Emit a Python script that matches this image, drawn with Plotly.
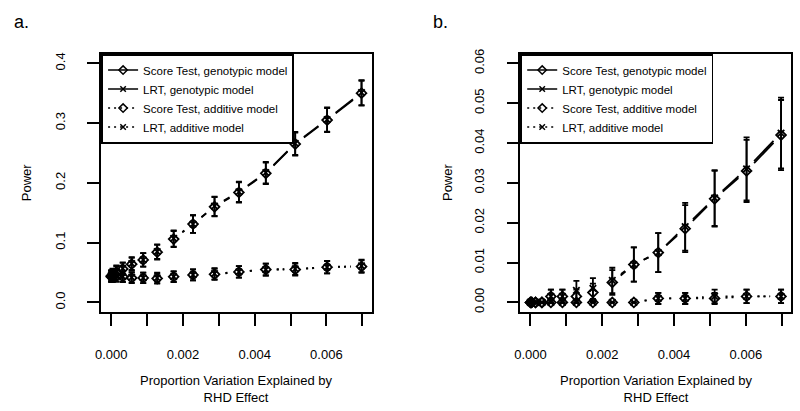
import math
import plotly.graph_objects as go

# ---------------- data ----------------
prop_var = [0, 0.0000356, 0.000142, 0.00032, 0.00057, 0.00089, 0.00128, 0.00174,
            0.00228, 0.00288, 0.00356, 0.00431, 0.00513, 0.00602, 0.00698]

# Panel a
score_geno_a = [0.044, 0.046, 0.051, 0.056, 0.064, 0.071, 0.084, 0.106, 0.131, 0.160, 0.184, 0.216, 0.265, 0.305, 0.350]
lrt_geno_a   = [0.045, 0.047, 0.052, 0.057, 0.065, 0.071, 0.085, 0.107, 0.131, 0.161, 0.185, 0.217, 0.266, 0.306, 0.351]
score_add_a  = [0.043, 0.043, 0.044, 0.043, 0.041, 0.041, 0.040, 0.043, 0.046, 0.047, 0.051, 0.055, 0.055, 0.059, 0.060]
lrt_add_a    = [0.044, 0.043, 0.044, 0.043, 0.042, 0.041, 0.041, 0.043, 0.046, 0.048, 0.051, 0.055, 0.056, 0.059, 0.061]
err_score_geno_a = [0.0090, 0.0092, 0.0096, 0.0101, 0.0107, 0.0113, 0.0122, 0.0135, 0.0148, 0.0161, 0.0170, 0.0180, 0.0193, 0.0202, 0.0209]
err_lrt_geno_a   = [0.0091, 0.0093, 0.0097, 0.0101, 0.0108, 0.0113, 0.0122, 0.0136, 0.0148, 0.0161, 0.0170, 0.0181, 0.0194, 0.0202, 0.0209]
err_score_add_a  = [0.0089, 0.0089, 0.0090, 0.0089, 0.0087, 0.0087, 0.0086, 0.0089, 0.0092, 0.0093, 0.0096, 0.0100, 0.0100, 0.0103, 0.0104]
err_lrt_add_a    = [0.0090, 0.0089, 0.0090, 0.0089, 0.0088, 0.0087, 0.0087, 0.0089, 0.0092, 0.0094, 0.0096, 0.0100, 0.0101, 0.0103, 0.0105]

# Panel b
score_geno_b = [0, 0, 0, 0, 0.0015, 0.0015, 0.0015, 0.0025, 0.0050, 0.0095, 0.0125, 0.0185, 0.0260, 0.0330, 0.0420]
lrt_geno_b   = [0, 0, 0, 0, 0.0015, 0.0015, 0.0030, 0.0035, 0.0055, 0.0095, 0.0125, 0.0190, 0.0262, 0.0335, 0.0425]
score_add_b  = [0, 0, 0, 0, 0, 0, 0, 0, 0, 0, 0.0010, 0.0010, 0.0010, 0.0015, 0.0015]
lrt_add_b    = [0, 0, 0, 0, 0, 0, 0, 0, 0, 0, 0.0010, 0.0010, 0.0015, 0.0015, 0.0015]
err_score_geno_b = [0, 0, 0, 0, 0.0017, 0.0017, 0.0017, 0.0022, 0.0031, 0.0043, 0.0049, 0.0059, 0.0070, 0.0078, 0.0088]
err_lrt_geno_b   = [0, 0, 0, 0, 0.0017, 0.0017, 0.0024, 0.0026, 0.0032, 0.0043, 0.0049, 0.0060, 0.0070, 0.0079, 0.0089]
err_score_add_b  = [0, 0, 0, 0, 0, 0, 0, 0, 0, 0, 0.0014, 0.0014, 0.0014, 0.0017, 0.0017]
err_lrt_add_b    = [0, 0, 0, 0, 0, 0, 0, 0, 0, 0, 0.0014, 0.0014, 0.0017, 0.0017, 0.0017]

series_names = ["Score Test, genotypic model", "LRT, genotypic model",
                "Score Test, additive model", "LRT, additive model"]
x_ticks = [0, 0.001, 0.002, 0.003, 0.004, 0.005, 0.006, 0.007]
x_tick_text = ["0.000", "", "0.002", "", "0.004", "", "0.006", ""]
y_ticks_a = [0, 0.1, 0.2, 0.3, 0.4]
y_ticks_b = [0, 0.01, 0.02, 0.03, 0.04, 0.05, 0.06]

# ---------------- layout constants ----------------
W, H = 800, 411
FONT = "Liberation Sans, Arial, sans-serif"
xmax = max(prop_var)
x_range = [-0.04 * xmax, 1.04 * xmax]
y_range_a = [-0.016, 0.416]
y_range_b = [-0.0024, 0.0624]
dom_x_a = [96 / W, 368.3 / W]
dom_x_b = [518.3 / W, 791 / W]
dom_y = [(H - 311.5) / H, (H - 49.5) / H]
LW = 1.8


def gapped(xs, ys, xr, yr, dx, dy, gap=11):
    """Segments between points shortened at both ends (R type='b')."""
    sx = (dx[1] - dx[0]) * W / (xr[1] - xr[0])
    sy = (dy[1] - dy[0]) * H / (yr[1] - yr[0])
    ox, oy = [], []
    for i in range(len(xs) - 1):
        ddx, ddy = xs[i + 1] - xs[i], ys[i + 1] - ys[i]
        d = math.hypot(ddx * sx, ddy * sy)
        if d <= 2 * gap:
            continue
        f = gap / d
        ox += [xs[i] + f * ddx, xs[i + 1] - f * ddx, None]
        oy += [ys[i] + f * ddy, ys[i + 1] - f * ddy, None]
    return ox, oy


def nz(errs):
    return [e if e > 0 else None for e in errs]


styles = [
    dict(symbol="diamond-open", size=7.5, dash="solid"),
    dict(symbol="x-thin-open", size=6.5, dash="solid"),
    dict(symbol="diamond-open", size=7.5, dash="2px,4px"),
    dict(symbol="x-thin-open", size=6.5, dash="2px,4px"),
]

fig = go.Figure()

panels = [
    ("x", "y", "legend", y_range_a, dom_x_a,
     [score_geno_a, lrt_geno_a, score_add_a, lrt_add_a],
     [err_score_geno_a, err_lrt_geno_a, err_score_add_a, err_lrt_add_a]),
    ("x2", "y2", "legend2", y_range_b, dom_x_b,
     [score_geno_b, lrt_geno_b, score_add_b, lrt_add_b],
     [err_score_geno_b, err_lrt_geno_b, err_score_add_b, err_lrt_add_b]),
]

for xa, ya, leg, yr, dx, ys_list, err_list in panels:
    # connecting lines with gaps
    for ys, st in zip(ys_list, styles):
        gx, gy = gapped(prop_var, ys, x_range, yr, dx, dom_y)
        fig.add_trace(go.Scatter(x=gx, y=gy, mode="lines", xaxis=xa, yaxis=ya,
                                 line=dict(color="black", width=LW, dash=st["dash"]),
                                 showlegend=False, hoverinfo="skip"))
    # points with error bars
    for ys, errs, st, nm in zip(ys_list, err_list, styles, series_names):
        fig.add_trace(go.Scatter(
            x=prop_var, y=ys, mode="markers", xaxis=xa, yaxis=ya, name=nm,
            marker=dict(symbol=st["symbol"], size=st["size"], color="black",
                        line=dict(width=1.8, color="black")),
            error_y=dict(type="data", array=nz(errs), visible=True, color="black",
                         thickness=LW, width=3),
            showlegend=False))
    # legend entries
    for st, nm in zip(styles, series_names):
        fig.add_trace(go.Scatter(
            x=[None], y=[None], mode="lines+markers", xaxis=xa, yaxis=ya, name=nm,
            legend=leg,
            line=dict(color="black", width=1.5, dash=st["dash"]),
            marker=dict(symbol=st["symbol"], size=st["size"] - 1, color="black",
                        line=dict(width=1.5, color="black")),
            showlegend=True))

axis_common = dict(showgrid=False, zeroline=False, showline=True, mirror=True,
                   linecolor="black", linewidth=LW, ticks="outside", ticklen=12,
                   tickwidth=LW, tickcolor="black",
                   tickfont=dict(family=FONT, size=13, color="black"))

leg_common = dict(xanchor="left", yanchor="top", bordercolor="black",
                  borderwidth=LW, bgcolor="white",
                  font=dict(family=FONT, size=11.5, color="black"),
                  itemwidth=30, tracegroupgap=0, traceorder="normal")

fig.update_layout(
    width=W, height=H, margin=dict(l=0, r=0, t=0, b=0),
    paper_bgcolor="white", plot_bgcolor="white",
    font=dict(family=FONT, color="black"),
    xaxis=dict(domain=dom_x_a, range=x_range, anchor="y", tickvals=x_ticks,
               ticktext=x_tick_text, ticklabelstandoff=18, **axis_common),
    yaxis=dict(domain=dom_y, range=y_range_a, anchor="x", tickvals=y_ticks_a,
               tickformat=".1f", tickangle=-90, ticklabelstandoff=17, **axis_common),
    xaxis2=dict(domain=dom_x_b, range=x_range, anchor="y2", tickvals=x_ticks,
                ticktext=x_tick_text, ticklabelstandoff=18, **axis_common),
    yaxis2=dict(domain=dom_y, range=y_range_b, anchor="x2", tickvals=y_ticks_b,
                tickformat=".2f", tickangle=-90, ticklabelstandoff=17, **axis_common),
    legend=dict(x=dom_x_a[0], y=dom_y[1], **leg_common),
    legend2=dict(x=dom_x_b[0], y=dom_y[1], **leg_common),
    showlegend=True,
)

ann_font = dict(family=FONT, size=13, color="black")
annotations = [
    dict(text="a.", x=6 / W, y=(H - 17) / H, xanchor="left", yanchor="middle",
         font=dict(family=FONT, size=18, color="black")),
    dict(text="b.", x=428 / W, y=(H - 17) / H, xanchor="left", yanchor="middle",
         font=dict(family=FONT, size=18, color="black")),
    dict(text="Power", x=21 / W, y=(H - 180) / H, textangle=-90,
         xanchor="center", yanchor="middle", font=ann_font),
    dict(text="Power", x=445 / W, y=(H - 180) / H, textangle=-90,
         xanchor="center", yanchor="middle", font=ann_font),
    dict(text="Proportion Variation Explained by<br>RHD Effect",
         x=(dom_x_a[0] + dom_x_a[1]) / 2, y=(H - 390) / H,
         xanchor="center", yanchor="middle", font=ann_font),
    dict(text="Proportion Variation Explained by<br>RHD Effect",
         x=(dom_x_b[0] + dom_x_b[1]) / 2, y=(H - 390) / H,
         xanchor="center", yanchor="middle", font=ann_font),
]
for a in annotations:
    a.update(xref="paper", yref="paper", showarrow=False)
fig.update_layout(annotations=annotations)

fig.write_html("out.html", config={"displayModeBar": False},
               post_script="document.body.style.margin='0';document.body.style.padding='0';")
